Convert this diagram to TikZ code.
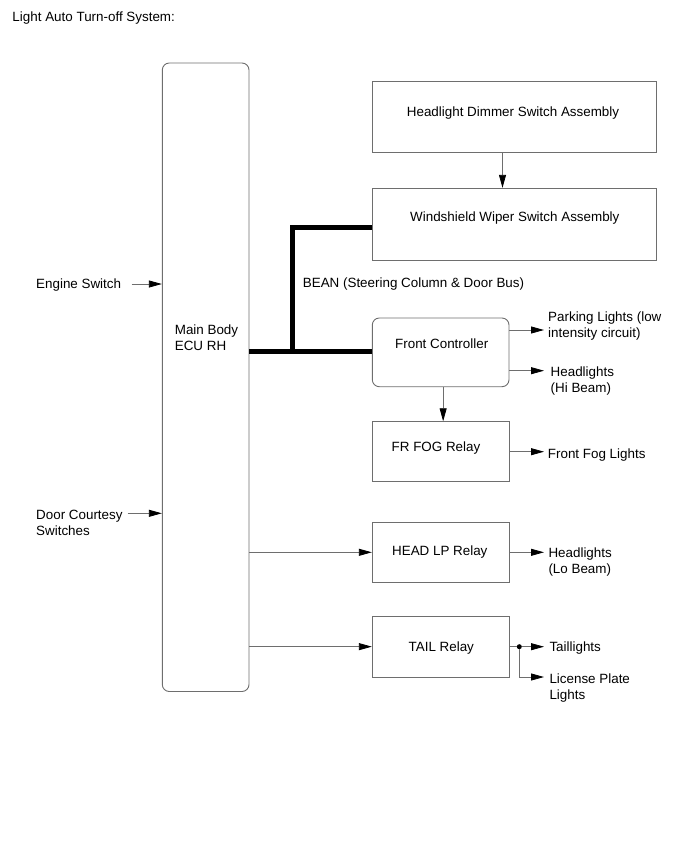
\documentclass[tikz,border=0pt]{standalone}
\usepackage{fontspec}
\setmainfont{Liberation Sans}
\usetikzlibrary{arrows.meta,positioning}
\definecolor{lgray}{RGB}{110,110,110}
\newcommand{\dfont}{\fontsize{13.4pt}{16pt}\selectfont}
\tikzset{
  box/.style={draw=lgray, line width=0.9pt, inner sep=0pt},
  rbox/.style={box, rounded corners=7pt},
  txt/.style={font=\dfont, inner sep=0pt},
  lab/.style={font=\dfont, inner sep=0pt, anchor=north west, align=left},
  arr/.style={draw=lgray, line width=0.8pt, -{Triangle[length=13pt, width=7pt, color=black]}},
  ln/.style={draw=lgray, line width=0.8pt},
  bus/.style={line width=5pt, line join=miter},
  jdot/.style={circle, fill=black, inner sep=0pt, minimum size=5pt},
}

\begin{document}
\begin{tikzpicture}[x=1pt, y=-1pt]
 \useasboundingbox (0,0) rectangle (691,855);
 \node[lab] (title) at (12.3,12) {Light Auto Turn-off System:};
 % boxes
 \node[rbox, minimum width=86.7pt, minimum height=628.5pt] (ecu) at (205.65,377.25) {};
 \node[txt, align=left] (ecu-t) at (206.5,338) {Main Body\\ECU RH};
 \node[box, minimum width=284.4pt, minimum height=70.6pt] (dimmer) at (514.5,117) {};
 \node[txt] (dimmer-t) at (513,113) {Headlight Dimmer Switch Assembly};
 \node[box, minimum width=284.4pt, minimum height=71.7pt] (wiper) at (514.5,224.15) {};
 \node[txt] (wiper-t) at (514.8,218) {Windshield Wiper Switch Assembly};
 \node[rbox, minimum width=136.7pt, minimum height=68.7pt] (fc) at (440.65,352.35) {};
 \node[txt] (fc-t) at (441.7,344) {Front Controller};
 \node[box, minimum width=136.7pt, minimum height=60pt] (fog) at (440.65,451.7) {};
 \node[txt] (fog-t) at (436,448) {FR FOG Relay};
 \node[box, minimum width=136.7pt, minimum height=60pt] (head) at (440.65,552.3) {};
 \node[txt] (head-t) at (439.8,552) {HEAD LP Relay};
 \node[box, minimum width=136.7pt, minimum height=60.7pt] (tail) at (440.65,646.65) {};
 \node[txt] (tail-t) at (441.3,648) {TAIL Relay};

 % inputs
 \node[lab] (es) at (36,279) {Engine Switch};
 \node[lab] (dcs) at (36,510) {Door Courtesy\\Switches};
 \coordinate (es-o) at (131.5,284);
 \coordinate (dcs-o) at (127.7,513.3);
 \draw[arr] (es-o) -- (ecu.west |- es-o);
 \draw[arr] (dcs-o) -- (ecu.west |- dcs-o);

 % BEAN bus
 \coordinate (bj) at (292.3,351);
 \draw[bus] (ecu.east |- bj) -- (fc.west |- bj);
 \draw[bus] (bj) |- ([yshift=-3.5pt]wiper.west);
 \node[lab] (bean) at (302.7,278) {BEAN (Steering Column \& Door Bus)};

 % links between boxes
 \draw[arr] ([xshift=-12pt]dimmer.south) -- ([xshift=-12pt]dimmer.south |- wiper.north);
 \draw[arr] ([xshift=2.5pt]fc.south) -- ([xshift=2.5pt]fc.south |- fog.north);
 \draw[arr] (ecu.east |- head) -- (head.west);
 \draw[arr] (ecu.east |- tail) -- (tail.west);

 % outputs
 \foreach \src/\yy/\nm in {fc/330/pl, fc/370.7/hi, fog/451.7/ffl, head/552.3/lo}{
   \coordinate (\nm-e) at (544,\yy);
   \draw[arr] (\src.east |- \nm-e) -- (\nm-e);
 }
 \node[jdot] (tj) at (519.3,646.7) {};
 \coordinate (tl-e) at (544,646.7);
 \coordinate (lp-e) at (544,677);
 \draw[ln] (tail.east |- tj) -- (tj);
 \draw[arr] (tj) -- (tl-e);
 \draw[arr] (tj) |- (lp-e);

 \node[lab] (pl) at (548,312) {Parking Lights (low\\intensity circuit)};
 \node[lab] (hi) at (550.5,366.7) {Headlights\\(Hi Beam)};
 \node[lab] (ffl) at (547.7,449) {Front Fog Lights};
 \node[lab] (lo) at (548.3,547.3) {Headlights\\(Lo Beam)};
 \node[lab] (tl) at (549.3,641.7) {Taillights};
 \node[lab] (lp) at (549.3,674) {License Plate\\Lights};
\end{tikzpicture}
\end{document}
